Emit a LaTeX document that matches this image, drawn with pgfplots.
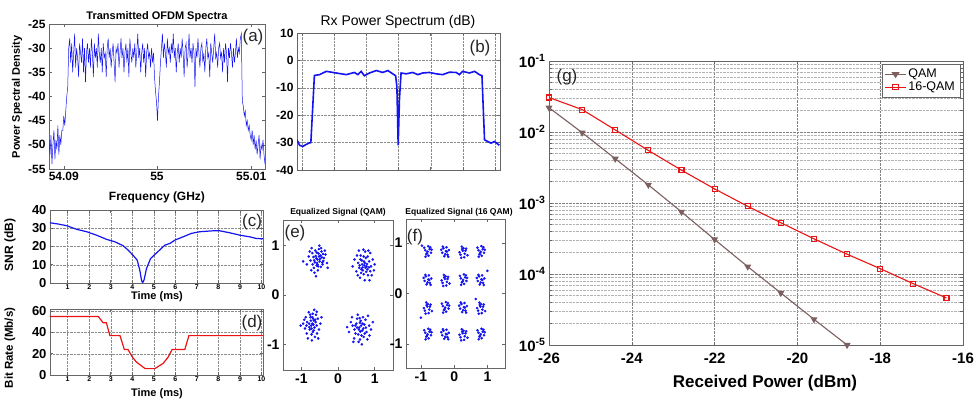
\documentclass[border=0pt]{standalone}
\usepackage{fontspec}
\setmainfont{Liberation Sans}
\usepackage{pgfplots}
\pgfplotsset{compat=1.18}
\usepackage{pgfplotstable}
\newcommand{\fs}[1]{\fontsize{#1}{#1}\selectfont}
\definecolor{mblue}{RGB}{20,20,240}
\definecolor{qamc}{RGB}{125,95,95}
\definecolor{redc}{RGB}{235,20,20}
\pgfplotsset{
  mystyle/.style={scale only axis, anchor=south west,
    axis line style={black!60, line width=0.6pt},
    tick style={black!60, line width=0.5pt},
    tick align=inside, major tick length=3pt,
    /pgf/number format/assume math mode=true,
    xticklabel={\textbf{\pgfmathprintnumber{\tick}}},
    yticklabel={\textbf{\pgfmathprintnumber{\tick}}},
    ticklabel style={font=\bfseries\boldmath\fs{12}}},
  mygrid/.style={grid=major, grid style={densely dotted, black!45, line width=0.4pt}}
}
\pgfplotstableread[row sep=\\]{
y\\
-49\\-52\\-48\\-54\\-50\\-47\\-53\\-49\\-51\\-46\\-52\\-48\\-50\\-47\\
-47\\-44\\-46\\-43\\-40\\-38\\
-30\\-28\\-33\\-29\\-35\\-31\\-27\\-34\\-30\\-32\\
-36\\-29\\-31\\-33\\-28\\-35\\-30\\-37\\-31\\-29\\
-33\\-30\\-34\\-28\\-31\\-36\\-29\\-32\\-30\\-34\\
-27\\-31\\-33\\-30\\-35\\-29\\-32\\-31\\-36\\-30\\
-28\\-32\\-30\\-34\\-31\\-29\\-33\\-37\\-30\\-31\\
-29\\-34\\-31\\-28\\-32\\-30\\-35\\-31\\-29\\-33\\
-30\\-36\\-28\\-31\\-33\\-30\\-32\\-29\\-34\\-31\\
-27\\-32\\-30\\-35\\-31\\-29\\-33\\-30\\-36\\-31\\
-29\\-32\\-31\\-34\\-30\\-33\\-31\\
-36\\-39\\-41\\-45\\-40\\-37\\-33\\
-30\\-27\\-32\\-29\\-31\\-34\\-28\\-31\\-30\\-33\\
-29\\-31\\-27\\-32\\-30\\-35\\-31\\-29\\-33\\-30\\
-32\\-28\\-31\\-36\\-30\\-29\\-34\\-31\\-27\\-32\\
-30\\-33\\-29\\-31\\-38\\-30\\-32\\-28\\-31\\-34\\
-30\\-29\\-33\\-31\\-35\\-30\\-28\\-32\\-31\\-36\\
-29\\-31\\-33\\-30\\-27\\-32\\-31\\-34\\-30\\-29\\
-32\\-31\\-35\\-30\\-33\\-29\\-31\\-37\\-30\\-32\\
-29\\-31\\-34\\-30\\-33\\-31\\-28\\-32\\-30\\-31\\
-28\\-27\\
-41\\-42\\-44\\-43\\-46\\-45\\-47\\-46\\-48\\-49\\-47\\-50\\
-48\\-51\\-49\\-52\\-50\\-48\\-53\\-50\\-51\\-49\\-52\\-54\\
}\specA
\begin{document}
\begin{tikzpicture}[x=1pt,y=1pt]
\useasboundingbox (0,0) rectangle (974,401);
% (a)
\begin{axis}[mystyle, at={(49pt,232pt)}, width=216pt, height=145pt,
  xmin=0, xmax=219, ymin=-55, ymax=-25, ytick={-55,-50,...,-25},
  xtick={15,109.5,205}, xticklabels={54.09,55,55.01}]
\addplot[mblue, line width=0.5pt] table[x expr=\coordindex, y=y] {\specA};
\end{axis}
% (b)
\begin{axis}[mystyle, mygrid, at={(297pt,231pt)}, width=203pt, height=137pt,
  xmin=-0.15, xmax=6.15, ymin=-40, ymax=10, ytick={-40,-30,...,10},
  xtick={0,...,6}, xticklabels={}]
\addplot[mblue, line width=1.6pt] coordinates {(-0.15,-29) (-0.07,-31) (0.03,-31.4) (0.13,-30.7) (0.22,-30.2) (0.28,-30) (0.39,-5.5) (0.55,-5.2) (0.76,-4) (1.07,-4.6) (1.38,-5.2) (1.63,-4.4) (1.74,-5.2) (1.84,-4) (1.94,-5.6) (2.10,-4.6) (2.31,-3.7) (2.51,-4.4) (2.67,-3.7) (2.82,-4.9) (2.91,-5.6) (2.95,-9.5) (2.99,-31) (3.03,-14) (3.08,-4.6) (3.24,-4.9) (3.44,-4.4) (3.60,-5.2) (3.75,-4.6) (3.96,-4.4) (4.17,-4.9) (4.37,-5.2) (4.58,-4.3) (4.79,-4.4) (4.89,-5.2) (4.99,-4) (5.20,-4.6) (5.36,-4) (5.51,-5.2) (5.59,-5.6) (5.67,-29) (5.77,-29.6) (5.87,-30.2) (5.98,-29.6) (6.13,-31)};
\end{axis}
% (c)
\begin{axis}[mystyle, mygrid, at={(50pt,118pt)}, width=213pt, height=73pt,
  xmin=0.18, xmax=10.07, ymin=0, ymax=40, ytick={0,10,...,40}, xtick={1,...,10},
  xticklabel style={font=\bfseries\boldmath\fs{7}, yshift=1.5pt}, yticklabel style={font=\bfseries\boldmath\fs{13}}]
\addplot[mblue, line width=1.2pt] coordinates {(0.18,33.0) (0.57,32.3) (0.95,31.4) (1.42,29.4) (1.88,28.1) (2.34,26.2) (2.81,23.9) (3.19,22.6) (3.58,20.4) (3.81,18.0) (4.05,15.0) (4.23,12.5) (4.35,7.0) (4.43,1.5) (4.48,0) (4.55,1.8) (4.66,7.9) (4.85,13.4) (5.13,16.5) (5.51,20.7) (5.75,21.7) (5.98,23.5) (6.36,25.3) (6.75,27.2) (7.14,28.1) (7.75,28.6) (8.06,28.6) (8.53,27.5) (9.0,26.2) (9.45,25.3) (9.76,24.4) (10.07,24.2)};
\end{axis}
% (d)
\begin{axis}[mystyle, mygrid, at={(50pt,26pt)}, width=213pt, height=66pt,
  xmin=0.18, xmax=10.07, ymin=0, ymax=62, ytick={0,20,40,60}, xtick={1,...,10},
  xticklabel style={font=\bfseries\boldmath\fs{7}, yshift=1.5pt}, yticklabel style={font=\bfseries\boldmath\fs{13}}]
\addplot[redc, line width=1.2pt] coordinates {(0.18,55) (2.42,55) (2.65,49) (2.8,49) (2.96,37) (3.43,37) (3.63,24) (3.8,24) (4.0,17) (4.2,12) (4.6,6) (5.05,6) (5.44,11) (5.67,17) (5.85,24) (6.44,24) (6.63,37) (10.07,37)};
\end{axis}
% (e)
\begin{axis}[mystyle, at={(283pt,31pt)}, width=110pt, height=150pt,
  xmin=-1.5, xmax=1.5, ymin=-1.52, ymax=1.52, xtick={-1,0,1}, ytick={-1,0,1},
  ticklabel style={font=\bfseries\boldmath\fs{14}}]
\addplot[only marks, mark=*, mark size=1.1pt, mblue, mark options={draw=mblue, fill=mblue}] coordinates {
(-0.56,0.72) (-0.48,0.80) (-0.63,0.66) (-0.70,0.85) (-0.42,0.62) (-0.52,0.93) (-0.66,0.55) (-0.38,0.75) (-0.75,0.70) (-0.58,0.60) (-0.45,0.88) (-0.61,0.79) (-0.50,0.68) (-0.72,0.95) (-0.34,0.82) (-0.55,0.50) (-0.80,0.78) (-0.47,0.57) (-0.62,0.90) (-0.40,0.69) (-0.69,0.62) (-0.53,0.84) (-0.59,0.74) (-0.44,0.76) (-0.85,0.62) (-0.30,0.65) (-0.64,0.45) (-0.51,1.00) (-0.77,0.88) (-0.36,0.90) (-0.57,0.65) (-0.49,0.73) (-0.67,0.77) (-0.54,0.58) (-0.41,0.83) (-0.95,0.68) (-0.28,0.55) (-0.60,0.38) (-0.73,0.50) (-0.46,0.95) (-0.58,0.86) (-0.52,0.78) (-0.65,0.70) (-0.43,0.66) (-0.56,0.62)
(0.72,0.60) (0.65,0.70) (0.80,0.52) (0.58,0.55) (0.85,0.68) (0.70,0.42) (0.62,0.80) (0.90,0.58) (0.76,0.75) (0.55,0.65) (0.68,0.50) (0.82,0.40) (0.74,0.88) (0.50,0.48) (0.95,0.72) (0.66,0.62) (0.79,0.63) (0.60,0.35) (0.88,0.85) (0.45,0.72) (0.73,0.30) (0.57,0.90) (0.98,0.50) (0.63,0.45) (0.84,0.56) (0.71,0.68) (0.77,0.47) (0.52,0.80) (0.69,0.92) (0.92,0.40) (0.40,0.58) (0.75,0.55) (0.67,0.56) (0.81,0.78) (0.61,0.72) (1.00,0.62) (0.86,0.30) (0.54,0.40) (0.70,0.78) (0.78,0.58) (0.64,0.52) (0.73,0.65) (0.88,0.48) (0.59,0.60) (0.83,0.90)
(-0.70,-0.58) (-0.62,-0.50) (-0.78,-0.65) (-0.66,-0.72) (-0.75,-0.45) (-0.58,-0.62) (-0.84,-0.55) (-0.69,-0.38) (-0.72,-0.80) (-0.55,-0.48) (-0.90,-0.68) (-0.63,-0.85) (-0.80,-0.35) (-0.67,-0.60) (-0.74,-0.52) (-0.52,-0.70) (-0.95,-0.58) (-0.60,-0.40) (-0.85,-0.78) (-0.71,-0.92) (-0.65,-0.30) (-0.48,-0.58) (-0.77,-0.70) (-0.68,-0.48) (-0.88,-0.45) (-0.57,-0.78) (-0.73,-0.62) (-0.64,-0.66) (-1.02,-0.62) (-0.45,-0.45) (-0.82,-0.88) (-0.61,-0.55) (-0.76,-0.40) (-0.69,-0.75) (-0.79,-0.58) (-0.54,-0.88) (-0.92,-0.50) (-0.66,-0.52) (-0.72,-0.68) (-0.58,-0.34) (-0.86,-0.62) (-0.70,-0.45)
(0.58,-0.66) (0.50,-0.58) (0.66,-0.72) (0.62,-0.52) (0.45,-0.70) (0.72,-0.60) (0.55,-0.80) (0.68,-0.45) (0.40,-0.62) (0.78,-0.75) (0.60,-0.90) (0.52,-0.48) (0.85,-0.62) (0.35,-0.55) (0.70,-0.85) (0.48,-0.78) (0.63,-0.62) (0.75,-0.50) (0.57,-0.70) (0.30,-0.75) (0.82,-0.42) (0.65,-1.00) (0.44,-0.88) (0.90,-0.70) (0.54,-0.40) (0.69,-0.68) (0.60,-0.56) (0.25,-0.65) (0.80,-0.90) (0.47,-0.62) (0.73,-0.78) (0.56,-0.95) (0.95,-0.55) (0.38,-0.45) (0.64,-0.82) (0.67,-0.58) (0.52,-0.66) (0.76,-0.66) (0.42,-0.95) (0.86,-0.82) (0.61,-0.74) (0.59,-0.47)
};
\end{axis}
% (f)
\begin{axis}[mystyle, at={(406pt,33pt)}, width=99pt, height=149pt,
  xmin=-1.45, xmax=1.53, ymin=-1.48, ymax=1.48, xtick={-1,0,1}, ytick={-1,0,1},
  ticklabel style={font=\bfseries\boldmath\fs{14}}]
\addplot[only marks, mark=*, mark size=1.1pt, mblue, mark options={draw=mblue, fill=mblue}] coordinates {
(-0.80,0.83) (-0.74,0.88) (-0.87,0.86) (-0.77,0.75) (-0.84,0.78) (-0.70,0.81) (-0.90,0.91) (-0.78,0.94) (-0.86,0.73) (-0.72,0.92) (-0.68,0.87) (-0.82,0.80)
(-0.25,0.84) (-0.32,0.90) (-0.20,0.77) (-0.36,0.81) (-0.23,0.92) (-0.30,0.74) (-0.16,0.86) (-0.27,0.78) (-0.34,0.93) (-0.18,0.73) (-0.39,0.87) (-0.22,0.83)
(0.26,0.85) (0.32,0.79) (0.19,0.77) (0.36,0.89) (0.23,0.93) (0.30,0.72) (0.16,0.82) (0.34,0.85) (0.28,0.90) (0.21,0.71) (0.40,0.76) (0.24,0.88)
(0.80,0.83) (0.86,0.88) (0.73,0.86) (0.83,0.75) (0.76,0.78) (0.90,0.81) (0.70,0.91) (0.82,0.94) (0.74,0.73) (0.88,0.92) (0.92,0.87) (0.78,0.80)
(-0.78,0.28) (-0.85,0.34) (-0.73,0.21) (-0.89,0.25) (-0.76,0.36) (-0.83,0.18) (-0.69,0.30) (-0.80,0.22) (-0.87,0.37) (-0.71,0.17) (-0.92,0.31) (-0.75,0.27)
(-0.28,0.29) (-0.22,0.23) (-0.35,0.21) (-0.18,0.33) (-0.31,0.37) (-0.24,0.16) (-0.38,0.26) (-0.20,0.29) (-0.26,0.34) (-0.33,0.15) (-0.14,0.20) (-0.30,0.32)
(0.27,0.27) (0.33,0.32) (0.20,0.30) (0.30,0.19) (0.23,0.22) (0.37,0.25) (0.17,0.35) (0.29,0.38) (0.21,0.17) (0.35,0.36) (0.39,0.31) (0.25,0.24)
(0.82,0.28) (0.75,0.34) (0.87,0.21) (0.71,0.25) (0.84,0.36) (0.77,0.18) (0.91,0.30) (0.80,0.22) (0.73,0.37) (0.89,0.17) (0.68,0.31) (0.85,0.27)
(-0.81,-0.26) (-0.75,-0.32) (-0.88,-0.34) (-0.71,-0.22) (-0.84,-0.18) (-0.77,-0.39) (-0.91,-0.29) (-0.73,-0.26) (-0.79,-0.21) (-0.86,-0.40) (-0.67,-0.35) (-0.83,-0.23)
(-0.27,-0.28) (-0.21,-0.23) (-0.34,-0.25) (-0.24,-0.36) (-0.31,-0.33) (-0.17,-0.30) (-0.37,-0.20) (-0.25,-0.17) (-0.33,-0.38) (-0.19,-0.19) (-0.15,-0.24) (-0.29,-0.31)
(0.29,-0.27) (0.22,-0.21) (0.34,-0.34) (0.18,-0.30) (0.31,-0.19) (0.24,-0.37) (0.38,-0.25) (0.27,-0.33) (0.20,-0.18) (0.36,-0.38) (0.15,-0.24) (0.32,-0.28)
(0.79,-0.26) (0.85,-0.32) (0.72,-0.34) (0.89,-0.22) (0.76,-0.18) (0.83,-0.39) (0.69,-0.29) (0.87,-0.26) (0.81,-0.21) (0.74,-0.40) (0.93,-0.35) (0.77,-0.23)
(-0.80,-0.81) (-0.74,-0.76) (-0.87,-0.78) (-0.77,-0.89) (-0.84,-0.86) (-0.70,-0.83) (-0.90,-0.73) (-0.78,-0.70) (-0.86,-0.91) (-0.72,-0.72) (-0.68,-0.77) (-0.82,-0.84)
(-0.25,-0.80) (-0.32,-0.74) (-0.20,-0.87) (-0.36,-0.83) (-0.23,-0.72) (-0.30,-0.90) (-0.16,-0.78) (-0.27,-0.86) (-0.34,-0.71) (-0.18,-0.91) (-0.39,-0.77) (-0.22,-0.81)
(0.26,-0.79) (0.32,-0.85) (0.19,-0.87) (0.36,-0.75) (0.23,-0.71) (0.30,-0.92) (0.16,-0.82) (0.34,-0.79) (0.28,-0.74) (0.21,-0.93) (0.40,-0.88) (0.24,-0.76)
(0.80,-0.81) (0.86,-0.76) (0.73,-0.78) (0.83,-0.89) (0.76,-0.86) (0.90,-0.83) (0.70,-0.73) (0.82,-0.70) (0.74,-0.91) (0.88,-0.72) (0.92,-0.77) (0.78,-0.84)
(-1.0,-0.48) (0.65,-0.11) (1.0,0.45) (-0.97,0.95)
};
\end{axis}
% (g)
\begin{axis}[mystyle, at={(549pt,56pt)}, width=414pt, height=284pt,
  xmin=-26, xmax=-16, ymode=log, ymin=1e-5, ymax=1e-1,
  xtick={-26,-24,...,-16}, ytick={1e-5,1e-4,1e-3,1e-2,1e-1},
  yticklabels={10\textsuperscript{-5},10\textsuperscript{-4},10\textsuperscript{-3},10\textsuperscript{-2},10\textsuperscript{-1}},
  ticklabel style={font=\bfseries\boldmath\fs{15}},
  xticklabel style={yshift=-4pt},
  xmajorgrids, ymajorgrids, yminorgrids,
  major grid style={densely dotted, black!50, line width=0.4pt},
  minor grid style={densely dotted, black!30, line width=0.35pt},
  legend style={at={(0.993,0.99)}, anchor=north east, draw=black!60, font=\fs{12.5},
    inner sep=3pt, row sep=-1pt},
  legend image post style={xscale=1.2},
  legend cell align=left]
\addplot[qamc, line width=1.1pt, mark=triangle*, mark size=3pt, mark options={rotate=180, fill=qamc}] coordinates {(-26,2.2e-2) (-25.2,9.8e-3) (-24.4,4.2e-3) (-23.6,1.8e-3) (-22.8,7.5e-4) (-22,3.06e-4) (-21.2,1.27e-4) (-20.4,5.4e-5) (-19.6,2.3e-5) (-18.8,1.0e-5)};
\addlegendentry{QAM}
\addplot[redc, line width=1.1pt, mark=square, mark size=2.5pt, mark options={fill=white, solid}] coordinates {(-26,3.06e-2) (-25.2,2.07e-2) (-24.4,1.07e-2) (-23.6,5.5e-3) (-22.8,2.9e-3) (-22,1.58e-3) (-21.2,8.98e-4) (-20.4,5.27e-4) (-19.6,3.13e-4) (-18.8,1.9e-4) (-18,1.19e-4) (-17.2,7.3e-5) (-16.4,4.6e-5)};
\addlegendentry{16-QAM}
\end{axis}
% texts
\node[font=\bfseries\fs{11}] at (157,384) {Transmitted OFDM Spectra};
\node[font=\fs{14}] at (398,379) {Rx Power Spectrum (dB)};
\node[font=\bfseries\fs{12}] at (157,204) {Frequency (GHz)};
\node[font=\bfseries\fs{11}, rotate=90] at (17,304) {Power Spectral Density};
\node[font=\bfseries\fs{12}, rotate=90] at (10,156) {SNR (dB)};
\node[font=\bfseries\fs{11.5}, rotate=90] at (10,53) {Bit Rate (Mb/s)};
\node[font=\bfseries\fs{11}] at (157,104) {Time (ms)};
\node[font=\bfseries\fs{11}] at (157,7) {Time (ms)};
\node[font=\bfseries\fs{8.5}] at (338,189) {Equalized Signal (QAM)};
\node[font=\bfseries\fs{8.5}] at (459,189) {Equalized Signal (16 QAM)};
\node[font=\bfseries\fs{17}] at (765,18) {Received Power (dBm)};
\node[font=\fs{17}, text=black!85] at (253,364) {(a)};
\node[font=\fs{17}, text=black!85] at (480,353) {(b)};
\node[font=\fs{17}, text=black!85] at (252,179) {(c)};
\node[font=\fs{17}, text=black!85] at (252,78) {(d)};
\node[font=\fs{17}, text=black!85] at (295,168) {(e)};
\node[font=\fs{17}, text=black!85] at (415,164) {(f)};
\node[font=\fs{17}, text=black!85] at (567,324) {(g)};
\end{tikzpicture}
\end{document}
